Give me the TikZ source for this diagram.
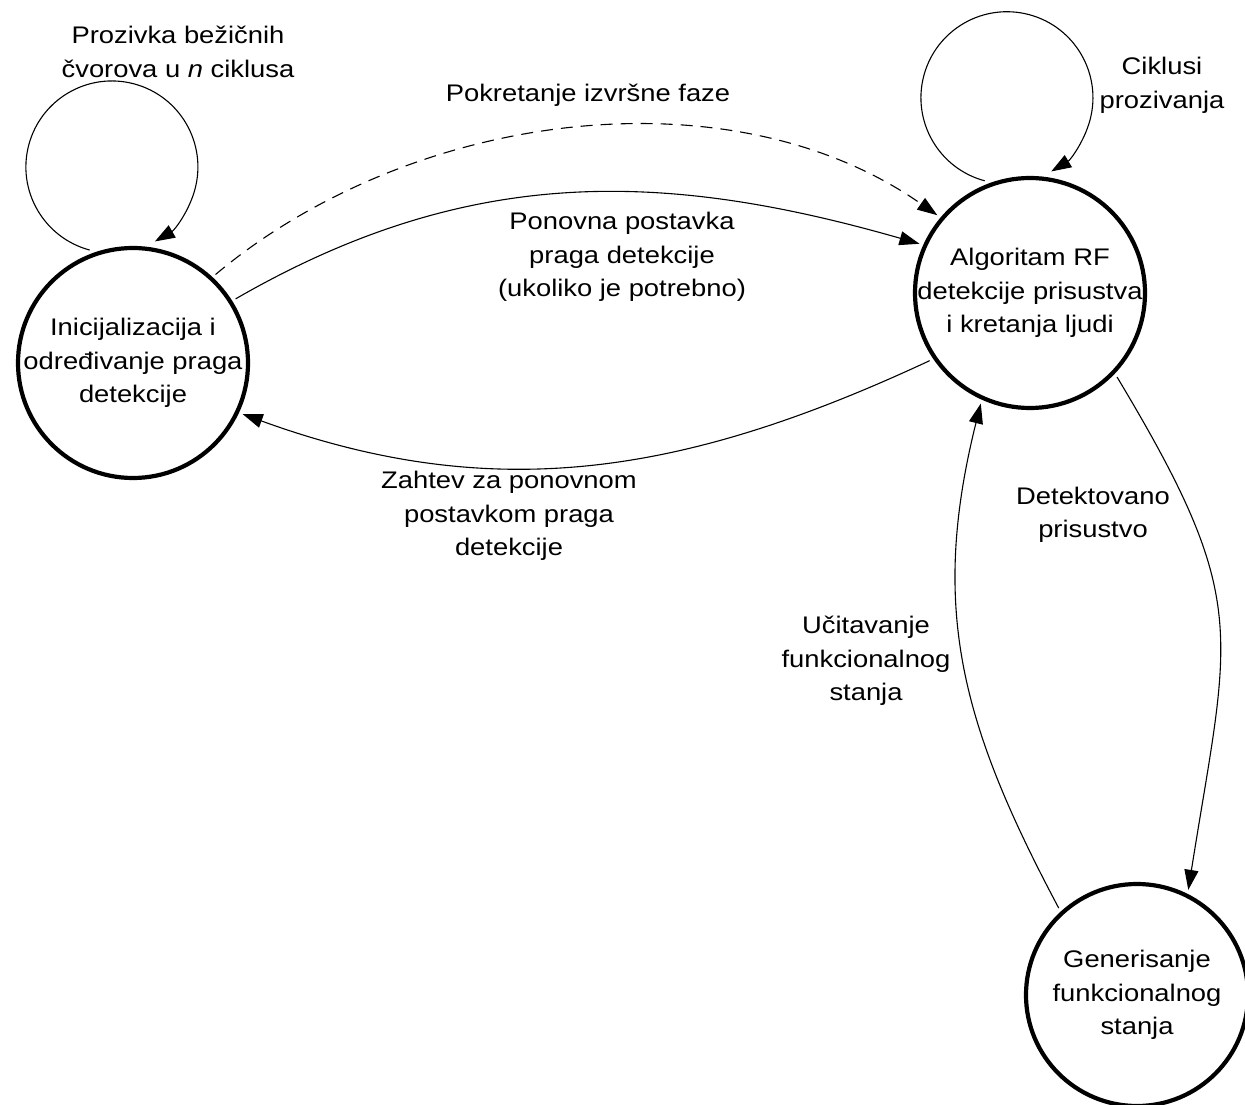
\documentclass[tikz,border=0pt]{standalone}
\usepackage{fontspec}
\setmainfont{Liberation Sans}[FakeStretch=1.14]
\usetikzlibrary{arrows.meta}
\newcommand{\lblfont}{\fontsize{24}{33.5}\selectfont}
\begin{document}
\begin{tikzpicture}[x=1pt,y=1pt,
  state/.style={circle,draw,line width=4.2pt,inner sep=-22pt,outer sep=6pt,
    minimum size=230pt,align=center,font=\lblfont},
  lbl/.style={align=center,inner sep=0pt,font=\lblfont},
  conn/.style={line width=1.1pt,-{Triangle[length=20pt,width=14pt]}},
  dsh/.style={dash pattern=on 12pt off 8pt}]
\useasboundingbox (0,0) rectangle (1245,1104);

\node[state] (L) at (133,741) {Inicijalizacija i\\određivanje praga\\detekcije};
\node[state] (R) at (1030,811) {Algoritam RF\\detekcije prisustva\\i kretanja ljudi};
\node[state,minimum size=222pt] (B) at (1137,109) {Generisanje\\funkcionalnog\\stanja};

% self loops
\draw[conn] (L.111) arc[start angle=-105,end angle=-420,radius=86];
\draw[conn] (R.112) arc[start angle=-105,end angle=-419,radius=86];

% connectors
\draw[conn,dsh] (L.47.7) to[out=40,in=145,looseness=0.9] (R.140);
\draw[conn] (L.32) to[out=30,in=164] (R.156);
\draw[conn] (R.214) to[out=205,in=-20] (L.-25);
\draw[conn] (R.-44.7) to[out=-59,in=81,looseness=1.3] (B.64.5);
\draw[conn] (B.132) to[out=118,in=-104,looseness=1.05] (R.-114);

% labels
\node[lbl] (tL) at (178,1052) {Prozivka bežičnih\\čvorova u \textit{n} ciklusa};
\node[lbl] (tR) at (1162,1018.5) {Ciklusi\\prozivanja};
\node[lbl] (tP) at (588,1009) {Pokretanje izvršne faze};
\node[lbl] (tN) at (622,847) {Ponovna postavka\\praga detekcije\\(ukoliko je potrebno)};
\node[lbl] (tZ) at (509,588) {Zahtev za ponovnom\\postavkom praga\\detekcije};
\node[lbl] (tD) at (1093,589) {Detektovano\\prisustvo};
\node[lbl] (tU) at (866,443) {Učitavanje\\funkcionalnog\\stanja};
\end{tikzpicture}
\end{document}
